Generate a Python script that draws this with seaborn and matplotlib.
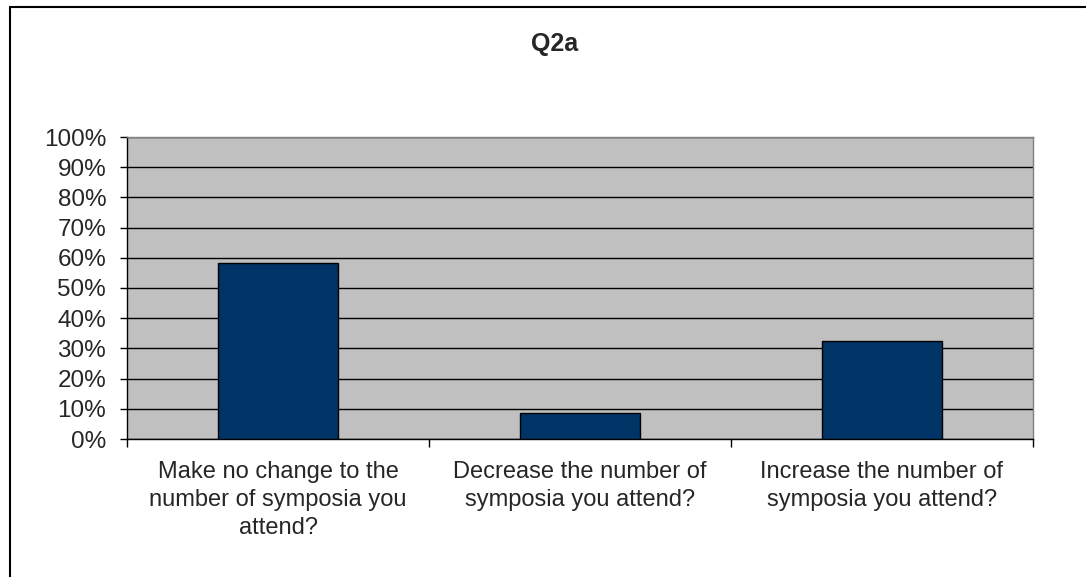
import matplotlib
matplotlib.use("Agg")
import matplotlib.pyplot as plt
from matplotlib.ticker import PercentFormatter, FixedLocator
from matplotlib.lines import Line2D
import seaborn as sns

# datos del grafico Q2a
respuestas = ["Make no change to the\nnumber of symposia you\nattend?",
              "Decrease the number of\nsymposia you attend?",
              "Increase the number of\nsymposia you attend?"]
porcentajes = [58.3, 8.5, 32.3]
ticks_y = [0, 10, 20, 30, 40, 50, 60, 70, 80, 90, 100]

sns.set_style("white")
plt.rcParams['font.family'] = ['Liberation Sans', 'DejaVu Sans']

fig = plt.figure(figsize=(10.86, 5.77), dpi=100)
ax = fig.add_axes([127/1086, 1-439/577, (1033-127)/1086, (439-137)/577])
ax.set_facecolor("#C0C0C0")

sns.barplot(x=respuestas, y=porcentajes, color="#003366", saturation=1,
            width=0.4, edgecolor="black", linewidth=1, ax=ax, zorder=3)

ax.set_ylim(0, 100)
ax.set_xlim(-0.5, 2.5)
ax.yaxis.set_major_locator(FixedLocator(ticks_y))
ax.yaxis.set_major_formatter(PercentFormatter(100, decimals=0))
ax.grid(axis="y", color="black", linewidth=1, zorder=0)
ax.set_axisbelow(True)

# ticks
ax.tick_params(axis="y", which="major", direction="out", length=5, width=1,
               color="black", pad=10, labelsize=17.5, left=True)
ax.set_xticks([-0.5, 0.5, 1.5, 2.5], minor=True)
ax.tick_params(axis="x", which="minor", direction="out", length=6, width=1,
               color="black", bottom=True)
ax.tick_params(axis="x", which="major", length=0, pad=16, labelsize=17)
for t in ax.get_xticklabels():
    t.set_linespacing(1.36)

for s in ["left", "bottom"]:
    ax.spines[s].set_color("black")
    ax.spines[s].set_linewidth(1)
for s in ["top", "right"]:
    ax.spines[s].set_color("#808080")
    ax.spines[s].set_linewidth(1)

ax.set_xlabel("")
ax.set_ylabel("")

fig.text(555/1086, 1-44/577, "Q2a", ha="center", va="center",
         fontsize=18, fontweight="bold")

# marco del grafico
fig.add_artist(Line2D([10/1086, 10/1086], [0, 1-7/577], color="black",
                      linewidth=1.5, transform=fig.transFigure))
fig.add_artist(Line2D([10/1086, 1], [1-7/577, 1-7/577], color="black",
                      linewidth=1.5, transform=fig.transFigure))

fig.savefig("out.png", dpi=100, facecolor="white")
